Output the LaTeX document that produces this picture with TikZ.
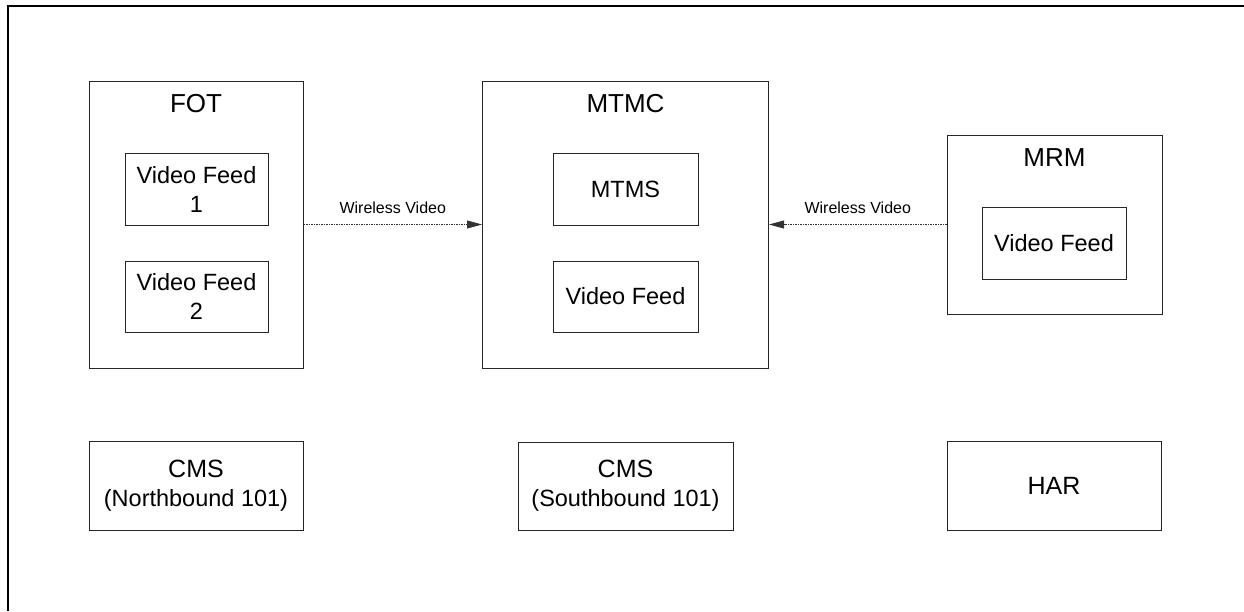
\documentclass[tikz,border=0pt]{standalone}
\usepackage{fontspec}
\setmainfont{Liberation Sans}
\usetikzlibrary{arrows.meta}
\tikzset{
  box/.style={draw=black!85, line width=1pt, rectangle, inner sep=0pt, align=center,
    font=\fontsize{23.5}{29}\selectfont},
  big/.style={inner sep=0pt, font=\fontsize{26}{30}\selectfont},
  wire/.style={draw=black!80, line width=0.8pt, dash pattern=on 1.5pt off 1pt,
    -{Triangle[length=15pt,width=8pt]}},
  small/.style={font=\fontsize{16}{18}\selectfont, inner sep=0pt}
}
\begin{document}
\begin{tikzpicture}[x=1pt,y=-1pt]
\useasboundingbox (0,0) rectangle (1244,611);
\draw[line width=2pt] (1244,6) -- (7.5,6) -- (7.5,611);
% FOT
\node[box, minimum width=214pt, minimum height=287pt] (fot) at (196,224.5) {};
\node[big] (fotl) at (196,104) {FOT};
\node[box, minimum width=143pt, minimum height=72pt] (vf1) at (196.5,189) {Video Feed\\1};
\node[box, minimum width=143pt, minimum height=71pt] (vf2) at (196.5,296.5) {Video Feed\\2};
% MTMC
\node[box, minimum width=286pt, minimum height=287pt] (mtmc) at (625.5,224.5) {};
\node[big] (mtmcl) at (625.5,104) {MTMC};
\node[box, minimum width=145pt, minimum height=72pt] (mtms) at (625.5,189) {MTMS};
\node[box, minimum width=145pt, minimum height=71pt] (vfm) at (625.5,296.5) {Video Feed};
% MRM
\node[box, minimum width=215pt, minimum height=179pt] (mrm) at (1054.5,224.5) {};
\node[big] (mrml) at (1054.5,158) {MRM};
\node[box, minimum width=144pt, minimum height=72pt] (vfr) at (1054,243) {Video Feed};
% bottom row
\node[box, minimum width=214pt, minimum height=89pt] (cmsn) at (196,485.5) {{\fontsize{25}{29}\selectfont CMS}\\(Northbound 101)};
\node[box, minimum width=215pt, minimum height=88pt] (cmss) at (625.5,486) {{\fontsize{25}{29}\selectfont CMS}\\(Southbound 101)};
\node[box, minimum width=214pt, minimum height=89pt, font=\fontsize{25}{29}\selectfont] (har) at (1054,485.5) {HAR};
% arrows
\draw[wire] (fot) -- node[small, midway, above=10pt] {Wireless Video} (mtmc);
\draw[wire] (mrm) -- node[small, midway, above=10pt] {Wireless Video} (mtmc);
\end{tikzpicture}
\end{document}
